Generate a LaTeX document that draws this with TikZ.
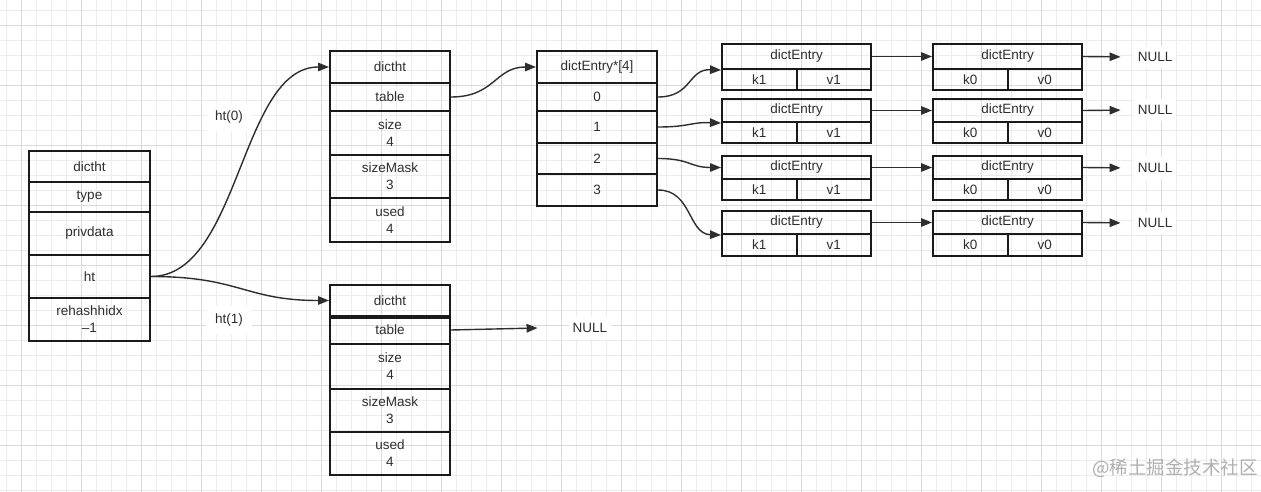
\documentclass[tikz,border=0pt]{standalone}
\usepackage{fontspec}
\setmainfont{Liberation Sans}
\newfontfamily\cjk{Noto Sans CJK SC}
\usetikzlibrary{arrows.meta}
\definecolor{gridminor}{HTML}{ECECEC}
\definecolor{gridmajor}{HTML}{DADADA}
\definecolor{linec}{HTML}{1A1A1A}
\definecolor{txt}{HTML}{2E2E2E}
\definecolor{wm}{HTML}{B0B0B0}
\begin{document}
\begin{tikzpicture}[x=1pt,y=-1pt,
  cell/.style={draw=linec, line width=2pt, inner sep=0pt, align=center, text=txt,
    font=\fontsize{13.5}{17}\selectfont},
  lw/.style={cell, minimum width=121pt},
  tw/.style={cell, minimum width=120pt},
  ew/.style={cell, minimum width=149pt},
  hw/.style={cell, minimum width=74.5pt},
  lbl/.style={fill=white, text=txt, inner xsep=9pt, inner ysep=8pt,
    font=\fontsize{13.5}{17}\selectfont},
  nul/.style={fill=white, text=txt, inner xsep=4pt, inner ysep=6pt,
    font=\fontsize{13.5}{17}\selectfont},
  arr/.style={draw=txt, line width=1.4pt, -{Triangle[length=11pt,width=8.5pt]}}]
\useasboundingbox (0,0) rectangle (1261,492);
\fill[white] (0,0) rectangle (1261,492);
% grid
\foreach \i in {0,...,84} {\draw[gridminor, line width=0.8pt] ({6+15*\i},0) -- ({6+15*\i},492);}
\foreach \i in {0,...,32} {\draw[gridminor, line width=0.8pt] (0,{10+15*\i}) -- (1261,{10+15*\i});}
\foreach \i in {0,...,20} {\draw[gridmajor, line width=0.8pt] ({21+60*\i},0) -- ({21+60*\i},492);}
\foreach \i in {0,...,7} {\draw[gridmajor, line width=0.8pt] (0,{25+60*\i}) -- (1261,{25+60*\i});}

% left dict
\node[lw, minimum height=31pt] (L0) at (89.5,166.5) {dictht};
\node[lw, minimum height=30pt] (L1) at (89.5,197) {type};
\node[lw, minimum height=43pt] (L2) at (89.5,233.5) {privdata};
\node[lw, minimum height=43pt] (L3) at (89.5,276.5) {ht};
\node[lw, minimum height=43pt] (L4) at (89.5,319.5) {rehashhidx\\–1};

% top dictht
\node[tw, minimum height=32pt] (T0) at (390,67) {dictht};
\node[tw, minimum height=28pt] (T1) at (390,97) {table};
\node[tw, minimum height=44pt] (T2) at (390,133) {size\\4};
\node[tw, minimum height=43pt] (T3) at (390,176.5) {sizeMask\\3};
\node[tw, minimum height=44pt] (T4) at (390,220) {used\\4};

% bottom dictht
\node[tw, minimum height=31pt] (B0) at (390,300.5) {dictht};
\node[tw, minimum height=28pt] (B1) at (390,330) {table};
\node[tw, minimum height=45pt] (B2) at (390,366.5) {size\\4};
\node[tw, minimum height=43pt] (B3) at (390,410.5) {sizeMask\\3};
\node[tw, minimum height=43pt] (B4) at (390,453.5) {used\\4};
\draw[linec, line width=3.5pt] (B0.south west) -- (B0.south east);

% array
\node[tw, minimum height=32pt] (A) at (597,67) {dictEntry*[4]};
\node[tw, minimum height=28pt] (A0) at (597,97) {0};
\node[tw, minimum height=32pt] (A1) at (597,127) {1};
\node[tw, minimum height=31pt] (A2) at (597,158.5) {2};
\node[tw, minimum height=32pt] (A3) at (597,190) {3};

% entries column 1
\node[ew, minimum height=25pt] (E1) at (796.5,56.5) {dictEntry};
\node[hw, minimum height=21pt] (E1k) at (759.25,79.5) {k1};
\node[hw, minimum height=21pt] (E1v) at (833.75,79.5) {v1};
\node[ew, minimum height=23pt] (E2) at (796.5,110.5) {dictEntry};
\node[hw, minimum height=21pt] (E2k) at (759.25,132.5) {k1};
\node[hw, minimum height=21pt] (E2v) at (833.75,132.5) {v1};
\node[ew, minimum height=23pt] (E3) at (796.5,167.5) {dictEntry};
\node[hw, minimum height=21pt] (E3k) at (759.25,189.5) {k1};
\node[hw, minimum height=21pt] (E3v) at (833.75,189.5) {v1};
\node[ew, minimum height=23pt] (E4) at (796.5,222.5) {dictEntry};
\node[hw, minimum height=22pt] (E4k) at (759.25,245) {k1};
\node[hw, minimum height=22pt] (E4v) at (833.75,245) {v1};

% entries column 2
\node[ew, minimum height=25pt] (F1) at (1007.5,56.5) {dictEntry};
\node[hw, minimum height=21pt] (F1k) at (970.25,79.5) {k0};
\node[hw, minimum height=21pt] (F1v) at (1044.75,79.5) {v0};
\node[ew, minimum height=23pt] (F2) at (1007.5,110.5) {dictEntry};
\node[hw, minimum height=21pt] (F2k) at (970.25,132.5) {k0};
\node[hw, minimum height=21pt] (F2v) at (1044.75,132.5) {v0};
\node[ew, minimum height=23pt] (F3) at (1007.5,167.5) {dictEntry};
\node[hw, minimum height=21pt] (F3k) at (970.25,189.5) {k0};
\node[hw, minimum height=21pt] (F3v) at (1044.75,189.5) {v0};
\node[ew, minimum height=23pt] (F4) at (1007.5,222.5) {dictEntry};
\node[hw, minimum height=22pt] (F4k) at (970.25,245) {k0};
\node[hw, minimum height=22pt] (F4v) at (1044.75,245) {v0};

% NULLs and labels
\node[nul] (N1) at (1155,57) {NULL};
\node[nul] (N2) at (1155,110) {NULL};
\node[nul] (N3) at (1155,168) {NULL};
\node[nul] (N4) at (1155,223) {NULL};
\node[nul] (NB) at (590,328) {NULL};
\node[lbl] (H0) at (229,117) {ht(0)};
\node[lbl] (H1) at (229,320) {ht(1)};

% connectors
\draw[arr] (L3.east) .. controls (240,276.5) and (240,67) .. (T0.west);
\draw[arr] (L3.east) .. controls (240,276.5) and (245,300.5) .. (B0.west);
\draw[arr] (T1.east) .. controls (495,97) and (495,67) .. (A.west);
\draw[arr] (B1.east) -- ([xshift=-31pt]NB.west);
\draw[arr] (A0.east) .. controls (692,97) and (688,69) .. (E1.south west);
\draw[arr] (A1.east) .. controls (690,127) and (690,122) .. (E2.south west);
\draw[arr] (A2.east) .. controls (690,158.5) and (690,167.5) .. (E3.west);
\draw[arr] (A3.east) .. controls (692,190) and (688,234) .. (E4.south west);
\draw[arr] (E1.east) -- (F1.west);
\draw[arr] (E2.east) -- (F2.west);
\draw[arr] (E3.east) -- (F3.west);
\draw[arr] (E4.east) -- (F4.west);
\draw[arr, shorten >=13pt] (F1.east) -- (N1.west);
\draw[arr, shorten >=13pt] (F2.east) -- (N2.west);
\draw[arr, shorten >=13pt] (F3.east) -- (N3.west);
\draw[arr, shorten >=13pt] (F4.east) -- (N4.west);

% watermark
\node[text=wm, font=\cjk\fontsize{18.5}{22}\selectfont, inner sep=0pt] (W) at (1175,468) {@稀土掘金技术社区};
\end{tikzpicture}
\end{document}
